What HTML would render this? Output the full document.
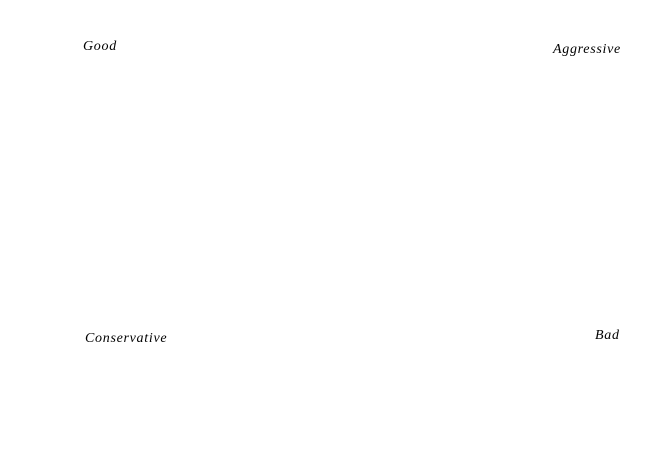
<!DOCTYPE html>
<html><head><style>
body{margin:0;width:658px;height:463px;background:#fff;position:relative;overflow:hidden;font-family:"Liberation Serif",serif;font-style:italic;font-size:14px;color:#000;letter-spacing:0.7px}
span{position:absolute;line-height:1;white-space:nowrap}
</style></head><body>
<span style="left:83px;top:40px">Good</span>
<span style="left:553px;top:43px">Aggressive</span>
<span style="left:85px;top:332px">Conservative</span>
<span style="left:595px;top:329px">Bad</span>
</body></html>
